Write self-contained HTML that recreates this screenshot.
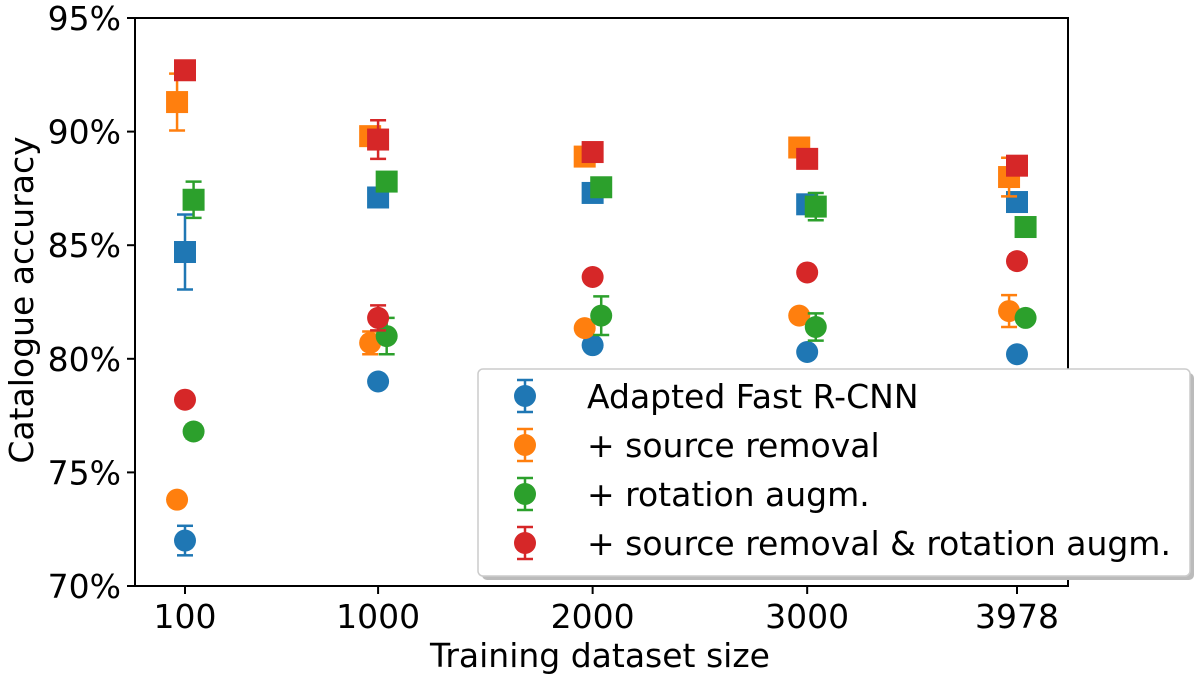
<!DOCTYPE html>
<html><head><meta charset="utf-8">
<style>
html,body{margin:0;padding:0;background:#fff;}
svg text{font-family:"DejaVu Sans","Liberation Sans",sans-serif;fill:#000;}
</style></head>
<body>
<svg id="chart" width="1200" height="679" viewBox="0 0 1200 679" xmlns="http://www.w3.org/2000/svg">
<g id="marks"></g>
<rect x="135" y="18" width="933" height="568" fill="none" stroke="#000" stroke-width="2"/>
<g id="axes"></g>
<text x="600" y="667" font-size="33" text-anchor="middle">Training dataset size</text>
<text transform="translate(33,300) rotate(-90)" font-size="33" text-anchor="middle">Catalogue accuracy</text>
<g>
<rect x="482" y="373" width="712" height="207" rx="5" fill="#bbb"/>
<rect x="478" y="369" width="712" height="207" rx="5" fill="#fff" stroke="#ccc" stroke-width="1.5"/>
<g id="legend-items"></g>
</g>
</svg>
<script>
const categories = [100, 1000, 2000, 3000, 3978];
const seriesNames = ["Adapted Fast R-CNN", "+ source removal", "+ rotation augm.", "+ source removal & rotation augm."];
const colors = ["#1f77b4", "#ff7f0e", "#2ca02c", "#d62728"];
const offsets = [0, -37, 40, 0];
// square markers
const sqBlue = [84.7, 87.1, 87.3, 86.8, 86.9];
const sqOrange = [91.3, 89.8, 88.9, 89.3, 88.0];
const sqGreen = [87.0, 87.8, 87.55, 86.7, 85.8];
const sqRed = [92.7, 89.65, 89.1, 88.8, 88.5];
const sqErrBlue = [1.65, 0, 0, 0, 0];
const sqErrOrange = [1.25, 0, 0, 0, 0.85];
const sqErrGreen = [0.8, 0, 0, 0.6, 0];
const sqErrRed = [0, 0.85, 0, 0, 0];
// circle markers
const ciBlue = [72.0, 79.0, 80.6, 80.3, 80.2];
const ciOrange = [73.8, 80.7, 81.35, 81.9, 82.1];
const ciGreen = [76.8, 81.0, 81.9, 81.4, 81.8];
const ciRed = [78.2, 81.8, 83.6, 83.8, 84.3];
const ciErrBlue = [0.65, 0, 0, 0, 0];
const ciErrOrange = [0, 0.5, 0, 0, 0.7];
const ciErrGreen = [0.3, 0.8, 0.85, 0.6, 0];
const ciErrRed = [0, 0.55, 0, 0, 0.3];
const yTicks = [70, 75, 80, 85, 90, 95];
const yTickLabels = ["70%", "75%", "80%", "85%", "90%", "95%"];
const xTickLabels = ["100", "1000", "2000", "3000", "3978"];

const NS = "http://www.w3.org/2000/svg";
const xScale = v => 185 + (v - 100) * (1017 - 185) / (3978 - 100);
const yScale = v => 586 - (v - 70) * (568 / 25);
function mk(tag, attrs, parent) {
  const e = document.createElementNS(NS, tag);
  for (const k in attrs) e.setAttribute(k, attrs[k]);
  parent.appendChild(e); return e;
}
const marks = document.getElementById("marks");
const axes = document.getElementById("axes");
const sq = [sqBlue, sqOrange, sqGreen, sqRed];
const sqE = [sqErrBlue, sqErrOrange, sqErrGreen, sqErrRed];
const ci = [ciBlue, ciOrange, ciGreen, ciRed];
const ciE = [ciErrBlue, ciErrOrange, ciErrGreen, ciErrRed];
function errbar(cx, v, e, col, parent) {
  if (!e) return;
  const y1 = yScale(v - e), y2 = yScale(v + e);
  const l = mk("line", {x1: cx, x2: cx, y1: y1, y2: y2, stroke: col, "stroke-width": 2.5}, parent);
  
  
  [y1, y2].forEach(y => {
    const c = mk("line", {x1: cx - 8, x2: cx + 8, y1: y, y2: y, stroke: col, "stroke-width": 2.5}, parent);
    
    
  });
}
for (let s = 0; s < 4; s++) {
  categories.forEach((c, i) => {
    const cx = xScale(c + offsets[s]);
    errbar(cx, sq[s][i], sqE[s][i], colors[s], marks);
    const r = mk("rect", {x: cx - 11, y: yScale(sq[s][i]) - 11, width: 22, height: 22, fill: colors[s]}, marks);
    
    
    errbar(cx, ci[s][i], ciE[s][i], colors[s], marks);
    const p = mk("circle", {cx: cx, cy: yScale(ci[s][i]), r: 11, fill: colors[s]}, marks);
    
    
  });
}
yTicks.forEach((t, i) => {
  const y = yScale(t);
  const l = mk("line", {x1: 127, x2: 135, y1: y, y2: y, stroke: "#000", "stroke-width": 2}, axes);
  
  
  const tx = mk("text", {x: 121, y: y + 12, "font-size": 33, "text-anchor": "end"}, axes);
  tx.textContent = yTickLabels[i];
  
  
});
categories.forEach((c, i) => {
  const x = xScale(c);
  const l = mk("line", {x1: x, x2: x, y1: 586, y2: 594, stroke: "#000", "stroke-width": 2}, axes);
  
  
  const tx = mk("text", {x: x, y: 628, "font-size": 33, "text-anchor": "middle"}, axes);
  tx.textContent = xTickLabels[i];
  
  
});
const leg = document.getElementById("legend-items");
seriesNames.forEach((n, i) => {
  const y = 396 + i * 49;
  const g = mk("g", {}, leg);
  
  
  mk("line", {x1: 525, x2: 525, y1: y - 16, y2: y + 16, stroke: colors[i], "stroke-width": 2.5}, g);
  mk("line", {x1: 517, x2: 533, y1: y - 16, y2: y - 16, stroke: colors[i], "stroke-width": 2.5}, g);
  mk("line", {x1: 517, x2: 533, y1: y + 16, y2: y + 16, stroke: colors[i], "stroke-width": 2.5}, g);
  mk("circle", {cx: 525, cy: y, r: 11, fill: colors[i]}, g);
  const t = mk("text", {x: 587, y: y + 12, "font-size": 33}, g);
  t.textContent = n;
});
</script>
</body></html>
